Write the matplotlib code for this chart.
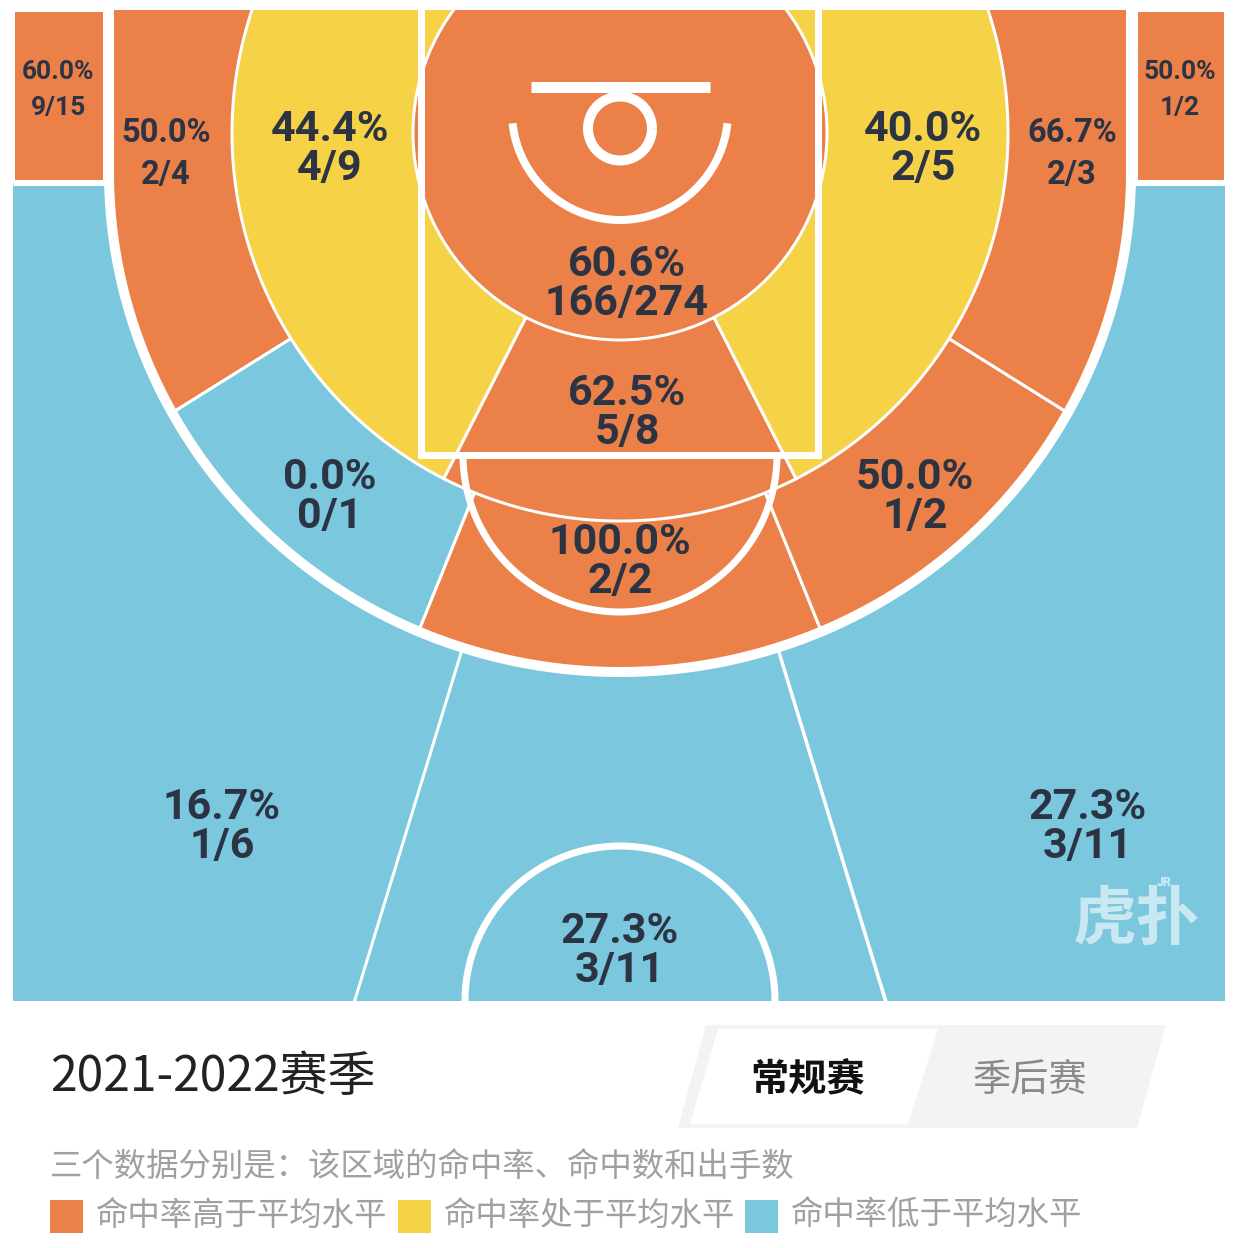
import numpy as np
import matplotlib
matplotlib.use("Agg")
import matplotlib.pyplot as plt
from matplotlib.patches import Polygon, Rectangle, Circle

# ---------------- data ----------------
zone_names = ["左侧底角三分", "左侧底线中投", "左侧近距离", "篮下", "右侧近距离",
              "右侧底线中投", "右侧底角三分", "罚球区", "左侧45度中投", "正面中投",
              "右侧45度中投", "左侧45度三分", "正面三分", "右侧45度三分"]
made = [9, 2, 4, 166, 2, 2, 1, 5, 0, 2, 1, 1, 3, 3]
attempts = [15, 4, 9, 274, 5, 3, 2, 8, 1, 2, 2, 6, 11, 11]
level = ["high", "high", "avg", "high", "avg", "high", "high", "high",
         "low", "high", "high", "low", "low", "low"]
legend_levels = ["high", "avg", "low"]
legend_labels = ["命中率高于平均水平", "命中率处于平均水平", "命中率低于平均水平"]
season_title = "2021-2022赛季"
tabs = ["常规赛", "季后赛"]
note = "三个数据分别是：该区域的命中率、命中数和出手数"

# ---------------- style / layout ----------------
COL = {"high": "#EB8048", "avg": "#F6D247", "low": "#7AC7DE"}
TXT = "#2C3444"
CJK = ["Noto Sans CJK SC", "DejaVu Sans"]
NUMF = ["Roboto", "DejaVu Sans"]

W, Hh = 1235, 1248
fig = plt.figure(figsize=(W / 100, Hh / 100), dpi=100)
ax = fig.add_axes([0, 0, 1, 1])
ax.set_xlim(0, W)
ax.set_ylim(Hh, 0)
ax.axis("off")
PX = 72 / 100  # points per pixel

CL, CR, CT, CB = 13, 1225, 10, 1001
HX, HY = 620, 133
R_RA, R_MID = 207, 388
C3X, C3Y, A3, B3 = 620, 172, 511, 500
THIN = 3 * PX

def zc(i):
    return COL[level[i]]

def ray(r, th):
    t = np.radians(th)
    return HX + r * np.sin(t), HY + r * np.cos(t)

def sector(r1, th0, th1, n=300):
    ts = np.linspace(th0, th1, n)
    xs, ys = ray(r1, ts)
    return np.vstack([[HX, HY], np.column_stack([xs, ys])])

court = Rectangle((CL, CT), CR - CL, CB - CT, transform=ax.transData)

def add_poly(pts, color, clip, z):
    p = Polygon(pts, closed=True, facecolor=color, edgecolor="white",
                linewidth=THIN, zorder=z, joinstyle="miter")
    ax.add_patch(p)
    p.set_clip_path(clip)
    return p

# ---- 3pt zones (outside the arc) ----
far = CB + 60
def ray_to_y(th, y):
    r = (y - HY) / np.cos(np.radians(th))
    return ray(r, th)

LW3, RW3 = -17, 17
lx, ly = ray_to_y(LW3, far)
rx, ry = ray_to_y(RW3, far)
add_poly([(HX, HY), (HX, CT - 60), (CL - 60, CT - 60), (CL - 60, far), (lx, ly)], zc(11), court, 1)
add_poly([(HX, HY), (lx, ly), (rx, ry)], zc(12), court, 1)
add_poly([(HX, HY), (HX, CT - 60), (CR + 60, CT - 60), (CR + 60, far), (rx, ry)], zc(13), court, 1)
# corners
add_poly([(CL, CT), (104, CT), (104, 181), (CL, 181)], zc(0), court, 2)
add_poly([(1136, CT), (CR, CT), (CR, 181), (1136, 181)], zc(6), court, 2)

# ---- inside-3pt region ----
ts = np.linspace(np.pi, 0, 400)
arc3 = np.column_stack([C3X + A3 * np.cos(ts), C3Y + B3 * np.sin(ts)])
x3l, x3r = C3X - A3, C3X + A3
inside3 = np.vstack([[x3l, CT], arc3, [x3r, CT]])
inside_patch = Polygon(inside3, closed=True, transform=ax.transData)

# long mid-range wedges
LM_BASE, LM_CEN = 58, 22
add_poly(sector(1600, -180, -LM_BASE), zc(1), inside_patch, 3)
add_poly(sector(1600, -LM_BASE, -LM_CEN), zc(8), inside_patch, 3)
add_poly(sector(1600, -LM_CEN, LM_CEN), zc(9), inside_patch, 3)
add_poly(sector(1600, LM_CEN, LM_BASE), zc(10), inside_patch, 3)
add_poly(sector(1600, LM_BASE, 180), zc(5), inside_patch, 3)

# short mid-range
SM = 27
add_poly(sector(R_MID, -180, -SM), zc(2), court, 4)
add_poly(sector(R_MID, -SM, SM), zc(7), court, 4)
add_poly(sector(R_MID, SM, 180), zc(4), court, 4)

# restricted / rim circle
ra = Circle((HX, HY), R_RA, facecolor=zc(3), edgecolor="white", linewidth=THIN, zorder=5)
ax.add_patch(ra)
ra.set_clip_path(court)

# ---------------- court lines ----------------
def wline(xs, ys, lwpx, z=6, clip=True):
    ln, = ax.plot(xs, ys, color="white", lw=lwpx * PX, zorder=z,
                  solid_capstyle="butt", solid_joinstyle="miter")
    if clip:
        ln.set_clip_path(court)
    return ln

line3 = np.vstack([[x3l, CT - 5], [x3l, C3Y], arc3, [x3r, C3Y], [x3r, CT - 5]])
wline(line3[:, 0], line3[:, 1], 10)
wline([CL, x3l], [183, 183], 5)
wline([x3r, CR], [183, 183], 5)
# lane
wline([421, 421, 818, 818], [CT - 5, 455, 455, CT - 5], 7)
# free throw semicircle
t = np.linspace(0, np.pi, 200)
wline(620 + 157 * np.cos(t), 455 + 157 * np.sin(t), 7)
# restricted arc
t = np.radians(np.linspace(6, 174, 200))
wline(620 + 108 * np.cos(t), 112 + 108 * np.sin(t), 8)
# hoop
t = np.linspace(0, 2 * np.pi, 200)
wline(620 + 32 * np.cos(t), 128.5 + 32 * np.sin(t), 10)
# backboard + stem
wline([531, 710], [87, 87], 11)
wline([620, 620], [87, 98], 10)
# centre circle
t = np.linspace(np.pi, 2 * np.pi, 200)
wline(620 + 155 * np.cos(t), CB + 155 * np.sin(t), 7)

# ---------------- zone labels (two lines: rate, made/attempts) ----------------
BIG, MED, SMALL = 31, 23.5, 19
label_pos = [(58, 90, SMALL, 1.66), (166, 154, MED, 1.36), (330, 149, BIG, 0.93),
             (627, 284, BIG, 0.93), (923, 149, BIG, 0.93), (1072, 154, MED, 1.36),
             (1180, 90, SMALL, 1.66), (627, 413, BIG, 0.93), (330, 497, BIG, 0.93),
             (620, 562, BIG, 0.93), (915, 497, BIG, 0.93), (222, 827, BIG, 0.93),
             (620, 951, BIG, 0.93), (1088, 827, BIG, 0.93)]
for i, (x, yc, fs, lsp) in enumerate(label_pos):
    pct = f"{made[i] / attempts[i] * 100:.1f}%"
    ax.text(x, yc, f"{pct}\n{made[i]}/{attempts[i]}", ha="center", va="center",
            ma="center", fontsize=fs, color=TXT, fontweight="bold", family=NUMF,
            linespacing=lsp, zorder=10)

# watermark
ax.text(1137, 920, "虎扑", ha="center", va="center", fontsize=46, color="white",
        alpha=0.6, fontweight="bold", family=CJK, zorder=11)
ax.text(1164, 882, "JR", ha="center", va="center", fontsize=9, color="white",
        alpha=0.7, fontweight="bold", family=NUMF, zorder=11)

# ---------------- footer ----------------
ax.text(50, 1077, season_title, ha="left", va="center", fontsize=34.5, color="#222222",
        family=CJK)
ax.add_patch(Polygon([(706, 1025), (1166, 1025), (1137, 1128), (678, 1128)],
                     closed=True, facecolor="#F3F3F3", edgecolor="none", zorder=1))
ax.add_patch(Polygon([(718, 1029), (938, 1029), (908, 1124), (690, 1124)],
                     closed=True, facecolor="white", edgecolor="none", zorder=2))
ax.text(808, 1080, tabs[0], ha="center", va="center", fontsize=27.5, color="#111111",
        fontweight="bold", family=CJK, zorder=3)
ax.text(1030, 1080, tabs[1], ha="center", va="center", fontsize=27.5, color="#8A8A8A",
        family=CJK, zorder=3)
ax.text(50, 1168, note, ha="left", va="center", fontsize=23.3, color="#A0A0A0", family=CJK)

sq_x = [50, 398, 745]
for lv, lab, sx in zip(legend_levels, legend_labels, sq_x):
    ax.add_patch(Rectangle((sx, 1200), 33, 33, facecolor=COL[lv], edgecolor="none"))
    ax.text(sx + 46, 1216, lab, ha="left", va="center", fontsize=23.3, color="#A0A0A0",
            family=CJK)

fig.savefig("out.png", dpi=100, facecolor="white")
